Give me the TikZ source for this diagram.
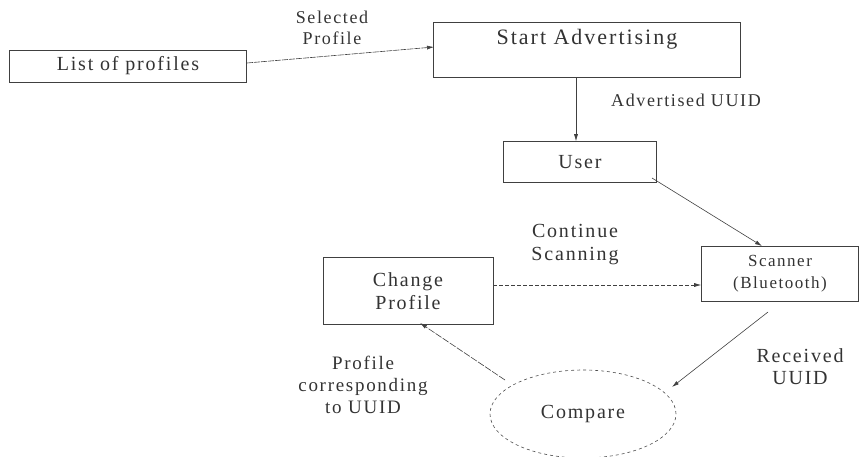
\documentclass[tikz,border=0pt]{standalone}
\usepackage{fontspec}
\setmainfont{Liberation Serif}[LetterSpace=9]
\usetikzlibrary{arrows.meta,shapes.geometric}
\begin{document}
\begin{tikzpicture}[x=1pt,y=-1pt,
  box/.style={draw=black!75,line width=0.6pt,inner sep=0pt,align=center,text=black!80},
  lbl/.style={align=center,text=black!80,font=\fontsize{18}{21}\selectfont},
  arr/.style={-{Latex[length=7pt,width=4pt]},draw=black!75,line width=0.6pt},
  darr/.style={arr,dash pattern=on 4pt off 2pt}]
\useasboundingbox (0,0) rectangle (859,457);
\node[box,minimum width=237,minimum height=32,font=\fontsize{20}{20}\selectfont] (list) at (128,66) {List of profiles};
\node[box,minimum width=307,minimum height=55,anchor=center] (start) at (587,50) {};
\node[text=black!80,font=\fontsize{22}{20}\selectfont] (starttxt) at (587,39) {Start Advertising};
\node[box,minimum width=153,minimum height=41,font=\fontsize{20}{20}\selectfont] (user) at (580,162) {User};
\node[box,minimum width=157,minimum height=55,font=\fontsize{17}{22}\selectfont] (scan) at (780,274) {Scanner\\(Bluetooth)};
\node[box,minimum width=170,minimum height=67,font=\fontsize{20}{23}\selectfont] (change) at (408,291) {Change\\Profile};
\node[draw=black!70,dashed,line width=0.6pt,ellipse,minimum width=186,minimum height=88,font=\fontsize{20}{20}\selectfont,text=black!80] (cmp) at (583,414) {Compare};
\coordinate (a1) at (247,63);
\coordinate (a2) at (434,47);
\draw[darr,dash pattern=on 6pt off 1pt] (a1) -- (a2);
\node[lbl] (l1) at (332,28) {Selected\\Profile};
\draw[arr] (start.south -| 576,0) -- (user.north -| 576,0);
\node[lbl,font=\fontsize{18}{20}\selectfont] (l2) at (686,100) {Advertised UUID};
\draw[arr] (652,178) -- (762,246);
\draw[darr] (change.east |- 0,285) -- (scan.west |- 0,285);
\node[lbl,font=\fontsize{20}{23}\selectfont] (l3) at (575,245) {Continue\\Scanning};
\draw[arr] (768,312) -- (672,387);
\node[lbl,font=\fontsize{20}{22}\selectfont] (l4) at (800,367) {Received\\UUID};
\draw[darr,dash pattern=on 7pt off 1.5pt] (505,380) -- (420,323);
\node[lbl,font=\fontsize{19}{22}\selectfont] (l5) at (363,385) {Profile\\corresponding\\to UUID};
\end{tikzpicture}
\end{document}
